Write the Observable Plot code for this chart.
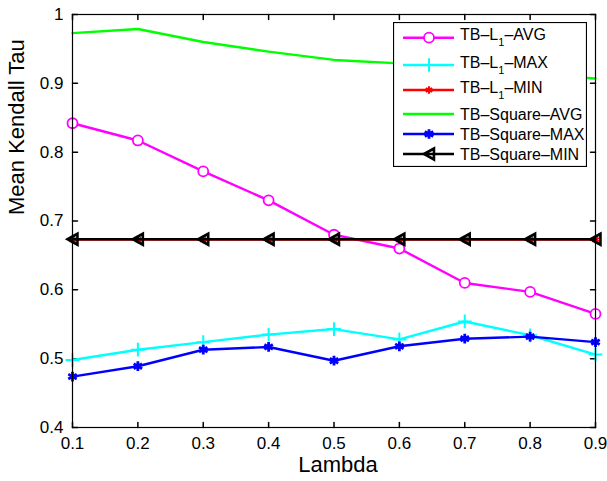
<!DOCTYPE html>
<html><head><meta charset="utf-8">
<script src="https://cdn.jsdelivr.net/npm/d3@7"></script>
<script src="https://cdn.jsdelivr.net/npm/@observablehq/plot@0.6"></script>
<style>
html,body{margin:0;padding:0;background:#fff;overflow:hidden;}
#wrap{position:relative;width:607px;height:481px;font-family:'Liberation Sans',Arial,Helvetica,sans-serif;}
#legend{position:absolute;left:393px;top:22px;}
</style></head><body><div id="wrap"></div>
<script>
// ---- data ----
const lambda = [0.1, 0.2, 0.3, 0.4, 0.5, 0.6, 0.7, 0.8, 0.9];
const l1Avg = [0.842, 0.817, 0.772, 0.730, 0.680, 0.660, 0.610, 0.597, 0.565];
const l1Max = [0.498, 0.513, 0.524, 0.535, 0.543, 0.528, 0.554, 0.534, 0.506];
const l1Min = [0.673, 0.673, 0.673, 0.673, 0.673, 0.673, 0.673, 0.673, 0.673];
const sqAvg = [0.973, 0.979, 0.960, 0.946, 0.934, 0.929, 0.921, 0.913, 0.907];
const sqMax = [0.474, 0.489, 0.513, 0.517, 0.497, 0.518, 0.529, 0.532, 0.524];
const sqMin = [0.6735, 0.6735, 0.6735, 0.6735, 0.6735, 0.6735, 0.6735, 0.6735, 0.6735];
const xTicks = [0.1, 0.2, 0.3, 0.4, 0.5, 0.6, 0.7, 0.8, 0.9];
const yTicks = [0.4, 0.5, 0.6, 0.7, 0.8, 0.9, 1];
const xLabel = "Lambda";
const yLabel = "Mean Kendall Tau";
const legendNames = [["TB–L", "1", "–AVG"], ["TB–L", "1", "–MAX"], ["TB–L", "1", "–MIN"],
  ["TB–Square–AVG"], ["TB–Square–MAX"], ["TB–Square–MIN"]];

// ---- symbols ----
const triLeft = {draw(ctx, size) {
  const r = Math.sqrt(size / Math.PI);
  ctx.moveTo(-r * 0.9, 0); ctx.lineTo(r * 0.9, -r); ctx.lineTo(r * 0.9, r); ctx.closePath();
}};
const tickShape = {draw(ctx, l) { ctx.moveTo(0, 0); ctx.lineTo(0, -l); }};

const series = [
  {vals: l1Avg, color: "#ff00ff", symbol: "circle", r: 5, fill: "white", sw: 1.8},
  {vals: l1Max, color: "#00ffff", symbol: "plus", r: 4.5, fill: "none", sw: 2},
  {vals: l1Min, color: "#ff0000", symbol: "asterisk", r: 3.5, fill: "none", sw: 2.2},
  {vals: sqAvg, color: "#00ff00", symbol: null},
  {vals: sqMax, color: "#0000ff", symbol: "asterisk", r: 4.6, fill: "none", sw: 2.8},
  {vals: sqMin, color: "#000000", symbol: triLeft, r: 5.5, fill: "none", sw: 2.6}
];

const marks = [];
for (const s of series) {
  const data = lambda.map((x, i) => ({x, y: s.vals[i]}));
  marks.push(Plot.line(data, {x: "x", y: "y", stroke: s.color, strokeWidth: 2.4}));
  if (s.symbol) marks.push(Plot.dot(data, {x: "x", y: "y", symbol: s.symbol, r: s.r, stroke: s.color, fill: s.fill, strokeWidth: s.sw}));
}

const font = "'Liberation Sans',Arial,Helvetica,sans-serif";
const fig = Plot.plot({
  width: 607, height: 481,
  marginLeft: 72, marginRight: 12, marginTop: 14, marginBottom: 54,
  x: {domain: [0.1, 0.9]},
  y: {domain: [0.4, 1]},
  style: {fontFamily: font, background: "white", color: "black", overflow: "hidden"},
  marks: [
    Plot.axisX(xTicks, {tickSize: 0, tickPadding: 9, fontSize: 17, tickFormat: d => d.toFixed(1), label: null}),
    Plot.axisY(yTicks, {tickSize: 0, tickPadding: 9, fontSize: 17, tickFormat: d => String(d), label: null}),
    Plot.vector(xTicks, {x: d => d, frameAnchor: "bottom", length: 5, rotate: 0, anchor: "start", shape: tickShape, stroke: "black"}),
    Plot.vector(xTicks, {x: d => d, frameAnchor: "top", length: 5, rotate: 180, anchor: "start", shape: tickShape, stroke: "black"}),
    Plot.vector(yTicks, {y: d => d, frameAnchor: "left", length: 5, rotate: 90, anchor: "start", shape: tickShape, stroke: "black"}),
    Plot.vector(yTicks, {y: d => d, frameAnchor: "right", length: 5, rotate: -90, anchor: "start", shape: tickShape, stroke: "black"}),
    ...marks,
    Plot.frame({stroke: "black", strokeWidth: 1.2}),
    Plot.text([xLabel], {text: d => d, frameAnchor: "bottom", dy: 29, dx: 4, lineAnchor: "top", fontSize: 22}),
    Plot.text([yLabel], {text: d => d, frameAnchor: "left", rotate: -90, dx: -56, dy: -6, fontSize: 22})
  ]
});
const wrap = document.getElementById("wrap");
wrap.appendChild(fig);

// ---- legend ----
const lw = 194, lh = 145;
const lsvg = d3.select(wrap).append("svg").attr("id", "legend").attr("width", lw).attr("height", lh)
  .style("font-family", font);
lsvg.append("rect").attr("x", 0.5).attr("y", 0.5).attr("width", lw - 1).attr("height", lh - 1)
  .attr("fill", "white").attr("stroke", "black").attr("stroke-width", 1.2);
const rowY = [15.7, 43, 68, 92, 112, 132];
const symMap = {circle: d3.symbolCircle, plus: d3.symbolPlus, asterisk: d3.symbolAsterisk};
series.forEach((s, i) => {
  const y = rowY[i];
  lsvg.append("line").attr("x1", 10).attr("x2", 61).attr("y1", y).attr("y2", y)
    .attr("stroke", s.color).attr("stroke-width", 2.4);
  if (s.symbol) {
    const type = typeof s.symbol === "string" ? symMap[s.symbol] : s.symbol;
    lsvg.append("path").attr("transform", `translate(36,${y})`)
      .attr("d", d3.symbol(type, Math.PI * s.r * s.r)())
      .attr("stroke", s.color).attr("fill", s.fill).attr("stroke-width", s.sw);
  }
  const name = legendNames[i];
  const t = lsvg.append("text").attr("x", 67).attr("y", y + (name.length > 1 ? 2.5 : 5.5))
    .attr("font-size", 16).attr("fill", "black");
  t.append("tspan").text(name[0]);
  if (name.length > 1) {
    t.append("tspan").attr("dy", 6).attr("font-size", 11).text(name[1]);
    t.append("tspan").attr("dy", -6).text(name[2]);
  }
});
</script></body></html>
